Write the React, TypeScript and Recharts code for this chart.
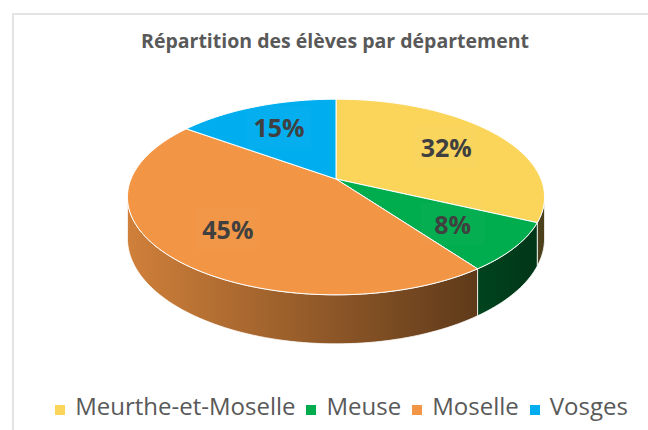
import React from 'react';
import { PieChart, Pie, Cell } from 'recharts';

const categories = ['Meurthe-et-Moselle', 'Meuse', 'Moselle', 'Vosges'];
const shares = [32, 8, 45, 15];
const colors = ['#FAD55A', '#00AD4E', '#F29544', '#00AEEF'];
const chartTitle = 'Répartition des élèves par département';

const data = categories.map((name, i) => ({ name, value: shares[i] }));

const TILT = 0.461;
const PERSP = 0.184;
const DEPTH = 40;
const FONT = '"Open Sans", "DejaVu Sans", sans-serif';

function project(cx: number, cy: number, R: number, thetaDeg: number, r: number, down: number) {
  const a = (thetaDeg * Math.PI) / 180;
  const c = Math.cos(a);
  const s = Math.sin(a);
  const k = 1 / (1 + PERSP * r * c);
  return [cx + R * r * s * k, cy + (-R * TILT * r * c + down) * k];
}

function shade(hex: string, f: number) {
  const n = parseInt(hex.slice(1), 16);
  const r = Math.round(((n >> 16) & 255) * f);
  const g = Math.round(((n >> 8) & 255) * f);
  const b = Math.round((n & 255) * f);
  return `rgb(${r},${g},${b})`;
}

function rimPoints(cx: number, cy: number, R: number, from: number, to: number, down: number) {
  const n = Math.max(2, Math.ceil(Math.abs(to - from) / 1.5));
  const pts: number[][] = [];
  for (let i = 0; i <= n; i++) {
    const t = from + ((to - from) * i) / n;
    pts.push(project(cx, cy, R, t, 1, down));
  }
  return pts;
}

function Slice3D(props: any) {
  const { cx, cy, outerRadius, startAngle, endAngle, index } = props;
  const fill = props.fill || colors[index % colors.length];
  const t1 = 90 - startAngle;
  const t2 = 90 - endAngle;
  const lo = Math.min(t1, t2);
  const hi = Math.max(t1, t2);
  const R = outerRadius;

  const top = rimPoints(cx, cy, R, lo, hi, 0);
  const topPath =
    `M${cx},${cy} ` + top.map((p) => `L${p[0].toFixed(2)},${p[1].toFixed(2)}`).join(' ') + ' Z';

  const silA = (Math.acos(-PERSP) * 180) / Math.PI;
  const silB = 360 - silA;
  const a = Math.max(lo, silA);
  const b = Math.min(hi, silB);
  let sidePath = '';
  if (a < b) {
    const up = rimPoints(cx, cy, R, a, b, 0);
    const dn = rimPoints(cx, cy, R, b, a, DEPTH);
    sidePath =
      up.map((p, i) => `${i === 0 ? 'M' : 'L'}${p[0].toFixed(2)},${p[1].toFixed(2)}`).join(' ') +
      ' ' +
      dn.map((p) => `L${p[0].toFixed(2)},${p[1].toFixed(2)}`).join(' ') +
      ' Z';
  }
  const gid = `side-grad-${index}`;
  const x1 = cx - R * 1.02;
  const x2 = cx + R * 1.02;
  return (
    <g>
      <defs>
        <linearGradient id={gid} gradientUnits="userSpaceOnUse" x1={x1} y1={0} x2={x2} y2={0}>
          <stop offset="0" stopColor={shade(fill, 0.86)} />
          <stop offset="0.5" stopColor={shade(fill, 0.58)} />
          <stop offset="1" stopColor={shade(fill, 0.3)} />
        </linearGradient>
      </defs>
      {sidePath && <path d={sidePath} fill={`url(#${gid})`} stroke="#ffffff" strokeWidth={0.8} strokeLinejoin="round" />}
      <path d={topPath} fill={fill} stroke="#ffffff" strokeWidth={1} strokeLinejoin="round" />
    </g>
  );
}

const renderLabel = (p: any) => {
  const theta = 90 - p.midAngle;
  const [x, y] = project(p.cx, p.cy, p.outerRadius, theta, 0.68, 0);
  const txt = `${Math.round(p.percent * 100)}%`;
  return (
    <g key={`lbl-${p.index}`}>
      <rect x={x - 32} y={y - 21.5} width={64} height={43} fill="#ffffff" opacity={0.02} />
      <text
        x={x}
        y={y}
        textAnchor="middle"
        dominantBaseline="central"
        fill="#404040"
        fontFamily={FONT}
        fontWeight={700}
        fontSize={25}
      >
        {txt}
      </text>
    </g>
  );
};

export default function App() {
  return (
    <div
      style={{
        position: 'absolute',
        left: 0,
        top: 0,
        width: 648,
        height: 430,
        overflow: 'hidden',
        background: '#ffffff',
      }}
    >
      <div
        style={{
          position: 'absolute',
          left: 12,
          top: 13,
          width: 700,
          height: 500,
          borderTop: '2px solid #E4E4E4',
          borderLeft: '2px solid #E4E4E4',
        }}
      />
      <div
        style={{
          position: 'absolute',
          left: 0,
          top: 31,
          width: 670,
          textAlign: 'center',
          fontFamily: FONT,
          fontWeight: 700,
          fontSize: 19.5,
          lineHeight: '20px',
          color: '#595959',
          whiteSpace: 'nowrap',
        }}
      >
        {chartTitle}
      </div>
      <div style={{ position: 'absolute', left: 0, top: 0 }}>
        <PieChart width={648} height={430} margin={{ top: 0, right: 0, bottom: 0, left: 0 }}>
          <Pie
            data={data}
            dataKey="value"
            nameKey="name"
            cx={336}
            cy={179}
            outerRadius={205}
            startAngle={90}
            endAngle={-270}
            isAnimationActive={false}
            label={renderLabel}
            labelLine={false}
            stroke="none"
            shape={Slice3D}
            activeShape={Slice3D}
            inactiveShape={Slice3D}
          >
            {data.map((d, i) => (
              <Cell key={d.name} fill={colors[i]} />
            ))}
          </Pie>
        </PieChart>
      </div>
      <div
        style={{
          position: 'absolute',
          left: 0,
          top: 394,
          width: 683,
          display: 'flex',
          justifyContent: 'center',
          fontFamily: FONT,
          fontSize: 24,
          lineHeight: '24px',
          color: '#595959',
          whiteSpace: 'nowrap',
        }}
      >
        {categories.map((c, i) => (
          <div key={c} style={{ display: 'flex', alignItems: 'center', marginRight: i < categories.length - 1 ? 11 : 0 }}>
            <span
              style={{
                display: 'inline-block',
                width: 10,
                height: 10,
                background: colors[i],
                marginRight: 10,
                marginTop: 8,
              }}
            />
            <span>{c}</span>
          </div>
        ))}
      </div>
    </div>
  );
}
